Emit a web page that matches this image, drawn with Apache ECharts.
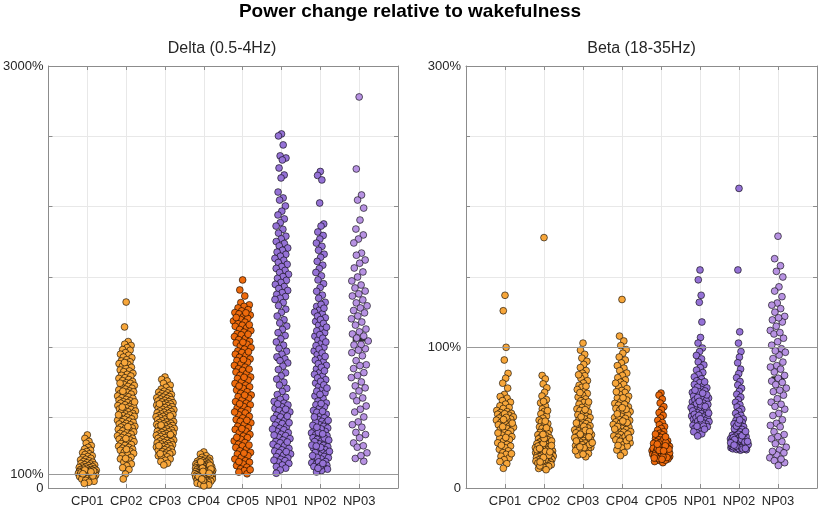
<!DOCTYPE html>
<html>
<head>
<meta charset="utf-8">
<script src="https://cdn.jsdelivr.net/npm/echarts@6/dist/echarts.min.js"></script>
<style>html,body{margin:0;padding:0;background:#fff}#chart{width:820px;height:509px}</style>
</head>
<body>
<div id="chart"></div>
<script>
// ---------------- DATA ----------------
const categories = ['CP01', 'CP02', 'CP03', 'CP04', 'CP05', 'NP01', 'NP02', 'NP03'];
const mainTitle = 'Power change relative to wakefulness';
const panelTitles = ['Delta (0.5-4Hz)', 'Beta (18-35Hz)'];
const deltaTickValues = [0, 100, 3000];
const deltaTickLabels = ['0', '100%', '3000%'];
const betaTickValues = [0, 100, 300];
const betaTickLabels = ['0', '100%', '300%'];
const referenceLevel = 100;

// Delta (0.5-4Hz), % change
const delta_CP01 = [377, 352, 331, 318, 301, 289, 277, 268, 259, 251, 243, 238, 229, 224, 216, 211, 204, 199, 193, 188, 183, 179, 174, 170, 166, 163, 159, 155, 152, 149, 146, 143, 140, 137, 134, 131, 129, 126, 124, 121, 119, 117, 114, 112, 110, 108, 106, 104, 102, 100, 98, 96, 94, 91, 89, 87, 84, 81, 78, 75, 72, 68, 64, 59, 54, 48, 41, 33, 120, 109, 95, 86, 128, 115, 101];
const delta_CP02 = [1322, 1145, 1041, 1022, 1013, 998, 984, 979, 962, 951, 944, 931, 926, 912, 903, 897, 884, 879, 866, 858, 851, 839, 832, 827, 815, 808, 801, 796, 784, 779, 771, 763, 757, 748, 744, 736, 729, 722, 718, 709, 703, 697, 690, 684, 679, 671, 667, 659, 654, 648, 641, 637, 630, 624, 619, 613, 607, 603, 596, 591, 586, 579, 574, 569, 562, 558, 553, 547, 541, 537, 530, 526, 519, 514, 509, 503, 498, 492, 488, 481, 476, 471, 466, 459, 455, 449, 444, 438, 433, 427, 422, 417, 411, 406, 399, 394, 388, 383, 377, 371, 366, 359, 353, 347, 341, 334, 329, 322, 316, 309, 303, 297, 289, 283, 276, 268, 261, 254, 246, 237, 229, 218, 207, 196, 184, 171, 158, 144, 131, 99, 64, 892, 745, 612, 520, 436, 352, 275, 210, 688, 575];
const delta_CP03 = [789, 772, 761, 744, 731, 716, 703, 694, 688, 681, 676, 670, 664, 661, 655, 650, 646, 641, 637, 632, 628, 623, 619, 614, 611, 606, 602, 597, 593, 589, 584, 580, 577, 572, 568, 563, 559, 556, 551, 547, 543, 538, 534, 531, 526, 522, 518, 514, 509, 506, 501, 497, 493, 489, 485, 481, 477, 472, 468, 465, 460, 456, 452, 448, 444, 440, 436, 431, 428, 423, 419, 415, 411, 407, 403, 399, 395, 390, 387, 383, 378, 374, 370, 366, 362, 358, 353, 349, 345, 341, 337, 333, 328, 324, 320, 316, 312, 307, 303, 299, 295, 291, 286, 282, 277, 273, 268, 263, 258, 253, 248, 242, 236, 229, 222, 214, 206, 197, 188, 176, 164, 598, 512, 447, 380, 301, 244];
const delta_CP04 = [256, 241, 229, 218, 211, 206, 201, 197, 193, 190, 186, 183, 180, 177, 174, 171, 169, 166, 163, 161, 158, 156, 153, 151, 148, 146, 144, 141, 139, 137, 134, 132, 130, 128, 125, 123, 121, 119, 117, 114, 112, 110, 108, 106, 103, 101, 99, 97, 95, 92, 90, 88, 86, 84, 81, 79, 77, 75, 72, 70, 68, 66, 63, 61, 59, 57, 54, 52, 50, 48, 45, 43, 40, 37, 34, 31, 27, 22, 15, 185, 162, 142, 118, 96, 74, 55, 135, 105, 83, 64];
const delta_CP05 = [1479, 1408, 1365, 1318, 1302, 1291, 1280, 1268, 1259, 1247, 1238, 1229, 1217, 1206, 1198, 1187, 1179, 1168, 1157, 1149, 1138, 1127, 1119, 1108, 1097, 1089, 1076, 1064, 1055, 1043, 1031, 1022, 1010, 998, 987, 975, 963, 951, 942, 929, 917, 906, 894, 882, 871, 859, 848, 836, 824, 813, 801, 789, 778, 766, 754, 743, 731, 719, 708, 696, 684, 673, 661, 649, 638, 626, 614, 603, 591, 579, 568, 556, 544, 533, 521, 509, 498, 486, 474, 463, 451, 439, 428, 416, 404, 393, 381, 369, 358, 346, 334, 323, 311, 299, 288, 276, 264, 253, 241, 229, 218, 206, 194, 183, 171, 159, 148, 136, 124, 113, 101, 1245, 1212, 1160, 1093, 1036, 968, 913, 845, 787, 725, 660, 598, 540, 481, 422, 360, 305, 248, 187, 130];
const delta_NP01 = [2517, 2503, 2439, 2361, 2346, 2332, 2275, 2225, 2204, 2104, 2062, 2047, 2005, 1968, 1941, 1913, 1886, 1862, 1839, 1812, 1790, 1771, 1752, 1738, 1721, 1706, 1690, 1677, 1661, 1648, 1632, 1619, 1603, 1590, 1574, 1561, 1547, 1532, 1519, 1503, 1490, 1476, 1461, 1447, 1432, 1418, 1404, 1389, 1376, 1361, 1349, 1340, 1318, 1296, 1271, 1248, 1222, 1196, 1173, 1151, 1127, 1104, 1083, 1060, 1038, 1015, 993, 972, 951, 932, 918, 905, 889, 866, 842, 819, 797, 774, 752, 731, 708, 686, 664, 645, 631, 615, 603, 590, 578, 566, 553, 541, 529, 517, 505, 493, 481, 470, 458, 447, 436, 425, 414, 403, 393, 382, 372, 361, 351, 341, 331, 321, 311, 301, 291, 281, 271, 262, 252, 242, 233, 223, 213, 204, 194, 184, 174, 163, 152, 141, 128, 105, 598, 560, 511, 464, 419, 376, 327, 258, 197];
const delta_NP02 = [2250, 2222, 2190, 2026, 1877, 1862, 1820, 1795, 1770, 1741, 1718, 1690, 1662, 1640, 1611, 1584, 1560, 1532, 1508, 1479, 1452, 1425, 1398, 1371, 1349, 1320, 1291, 1265, 1238, 1210, 1184, 1158, 1130, 1104, 1079, 1052, 1026, 1001, 974, 948, 922, 897, 871, 846, 820, 796, 770, 746, 721, 698, 676, 654, 636, 1305, 1278, 1250, 1222, 1197, 1170, 1143, 1117, 1090, 1065, 1038, 1012, 988, 960, 935, 909, 884, 858, 833, 808, 783, 758, 733, 710, 688, 665, 618, 604, 591, 577, 564, 551, 538, 525, 512, 499, 487, 474, 462, 450, 438, 426, 414, 402, 391, 379, 368, 357, 346, 335, 324, 314, 303, 293, 283, 273, 263, 253, 243, 234, 224, 215, 206, 197, 188, 179, 170, 161, 152, 143, 134, 124, 114, 470, 420, 372, 330, 289, 252, 218, 186, 155, 140, 260, 305, 355, 395, 445, 600, 545, 505, 480, 432, 385, 340, 298, 230, 175];
const delta_NP03 = [2780, 2268, 2083, 2047, 1990, 1905, 1841, 1799, 1770, 1742, 1670, 1655, 1621, 1598, 1564, 1536, 1500, 1472, 1443, 1422, 1400, 1380, 1365, 1337, 1316, 1295, 1280, 1262, 1245, 1223, 1203, 1180, 1158, 1130, 1110, 1095, 1066, 1045, 1017, 990, 962, 940, 905, 876, 849, 820, 785, 754, 726, 690, 655, 620, 583, 540, 505, 470, 432, 395, 357, 320, 290, 250, 210, 190, 1080, 1020, 980, 870, 800, 712, 640, 560, 450, 380, 300, 230];

// Beta (18-35Hz), % change
const beta_CP01 = [137, 126, 100, 91, 81.5, 78, 74.5, 71, 66.5, 65, 63.8, 62.1, 61, 59.6, 58.4, 57.2, 56.5, 55.1, 54.3, 53.6, 53, 52.4, 51.8, 51.1, 50.5, 49.7, 49, 48.2, 47.5, 46.6, 45.8, 44.9, 44, 43.2, 42.3, 41.4, 40.5, 39.5, 38.6, 37.6, 36.5, 35.4, 34.4, 33.2, 32.1, 31, 29.8, 28.7, 27.5, 26.4, 25.1, 23.9, 22.6, 21.4, 20.1, 18.8, 17.3, 14, 52.8, 50.2, 48.7, 46.1, 43.6, 39.1, 35.9, 30.4, 24.4];
const beta_CP02 = [178, 80, 77.5, 74, 71.2, 68, 65.4, 62.8, 60.5, 58.3, 56.2, 54.4, 52.7, 51.1, 49.6, 48.2, 46.9, 45.7, 44.5, 43.4, 42.3, 41.3, 40.4, 39.5, 38.6, 37.8, 37, 36.3, 35.6, 34.9, 34.3, 33.7, 33.1, 32.5, 32, 31.5, 31, 30.5, 30, 29.5, 29.1, 28.7, 28.3, 27.9, 27.5, 27.1, 26.7, 26.3, 25.9, 25.5, 25.1, 24.7, 24.3, 23.9, 23.5, 23.1, 22.7, 22.3, 21.9, 21.5, 21.1, 20.7, 20.3, 19.9, 19.5, 19.1, 18.7, 18.3, 17.9, 17.5, 17, 16.5, 16, 15.4, 14.7, 13.9, 13, 29.8, 27.2, 24.9, 22.5, 20.1, 17.7, 31.7, 26, 23.3, 19.3, 15.7, 33.4, 28.1, 21.7, 18.5, 25.7, 30.2, 35.2, 38.1, 42.8, 47.5, 55, 61.5];
const beta_CP03 = [103, 98, 95, 92.3, 90.1, 87.8, 85.6, 83.5, 81.6, 79.8, 78, 76.3, 74.6, 73, 71.5, 70, 68.6, 67.2, 65.9, 64.6, 63.3, 62, 60.8, 59.6, 58.4, 57.3, 56.2, 55.1, 54, 53, 52, 51, 50.1, 49.2, 48.3, 47.4, 46.6, 45.8, 45, 44.2, 43.4, 42.7, 42, 41.3, 40.6, 39.9, 39.2, 38.5, 37.9, 37.3, 36.7, 36.1, 35.5, 34.9, 34.3, 33.7, 33.1, 32.5, 31.9, 31.3, 30.7, 30.1, 29.5, 28.9, 28.3, 27.6, 26.9, 26.2, 25.4, 24.5, 23.5, 22.2, 46.2, 43.8, 41, 38.2, 35.8, 33.4, 30.9, 28.6, 26.5, 24, 40, 36.4, 32.2, 29.2, 50.6, 55.7, 61.2, 67.8, 72.4, 80.5];
const beta_CP04 = [134, 108, 104.5, 101.2, 98.4, 95.8, 93.1, 91, 88.9, 87, 85.2, 83.4, 81.7, 80, 78.4, 76.8, 75.2, 73.7, 72.2, 70.7, 69.3, 67.9, 66.5, 65.2, 63.9, 62.6, 61.3, 60.1, 58.9, 57.7, 56.5, 55.4, 54.3, 53.2, 52.1, 51, 50, 49, 48, 47, 46, 45.1, 44.2, 43.3, 42.4, 41.5, 40.6, 39.7, 38.8, 37.9, 37, 36.1, 35.2, 34.2, 33.2, 32.1, 31, 29.8, 28.5, 27, 25.2, 23, 64.1, 59.5, 55.9, 52.7, 49.5, 46.5, 43.7, 40.1, 36.6, 33.7, 30.3, 47.6, 41.9, 38.3, 35.6, 57.1, 68.4, 74.5];
const beta_CP05 = [67.5, 66, 63.2, 60.4, 57.8, 55.6, 53.5, 51.6, 49.8, 48.1, 46.5, 45, 43.6, 42.3, 41.1, 40, 38.9, 37.9, 36.9, 36, 35.1, 34.3, 33.5, 32.8, 32.1, 31.4, 30.8, 30.2, 29.6, 29, 28.5, 28, 27.5, 27, 26.5, 26, 25.5, 25.1, 24.7, 24.3, 23.9, 23.5, 23.1, 22.7, 22.3, 21.9, 21.5, 21.1, 20.6, 20.1, 19.5, 18.8, 18, 31.7, 29.3, 27.2, 25.8, 24.1, 22.5, 20.9, 30.5, 28.2, 26.2, 24.5, 22.9, 21.3, 33, 29.9, 27.8, 25.3, 23.3, 19.8, 34.7, 32.4, 28.8, 26.8, 24.9, 23.7, 21.7, 36.4, 31.1, 27.6, 22.1, 38.3, 30, 26.4, 20.4];
const beta_NP01 = [155, 148, 137, 132, 118, 107, 103, 99.5, 97, 94.2, 91.8, 89.6, 87.5, 85.6, 83.8, 82.1, 80.5, 79, 77.6, 76.2, 74.9, 73.6, 72.4, 71.2, 70.1, 69, 67.9, 66.9, 65.9, 64.9, 63.9, 63, 62.1, 61.2, 60.3, 59.4, 58.5, 57.6, 56.8, 56, 55.2, 54.4, 53.6, 52.8, 52, 51.2, 50.4, 49.6, 48.8, 48, 47.2, 46.3, 45.4, 44.5, 43.5, 42.4, 41.3, 40, 38.5, 37, 71.7, 68.4, 65.4, 62.6, 60, 57.2, 54.8, 52.4, 50, 47.6, 45, 42.9, 69.5, 64.4, 59, 55.6, 51.6, 46.7, 43.9, 66.2, 61.6, 53.2, 49.2, 44, 58, 41.8, 75.5, 67.4];
const beta_NP02 = [213, 155, 111, 103, 97, 93, 89, 84.5, 81.3, 78.4, 75.7, 73.2, 70.9, 68.7, 66.6, 64.6, 62.7, 60.9, 59.2, 57.6, 56, 54.5, 53.1, 51.7, 50.4, 49.1, 47.9, 46.7, 45.6, 44.5, 43.5, 42.5, 41.6, 40.7, 39.8, 39, 38.2, 37.5, 36.8, 36.1, 35.5, 34.9, 34.3, 33.8, 33.3, 32.8, 32.3, 31.9, 31.5, 31.1, 30.7, 30.3, 29.9, 29.5, 29.1, 28.7, 28.3, 27.9, 27.4, 26.9, 35.2, 34, 33, 32, 31.2, 30.4, 29.6, 28.8, 28, 33.5, 31.7, 30.1, 28.5, 27.2, 36.5, 34.6, 32.6, 30.9, 29.3, 27.7, 38.6, 35.8, 33.1, 31.4, 29.8, 37.2, 34.4, 32.1, 30.5, 28.1, 40.2, 42.1, 44, 46.1, 48.4];
const beta_NP03 = [179, 163, 158, 154, 150, 143, 140, 136, 131.5, 130, 127.5, 125, 122, 119.5, 118, 115, 112, 109.5, 106.5, 104, 101.5, 99, 96.5, 94.5, 92, 89.5, 87, 84.5, 82.5, 80, 78, 76, 75, 73.5, 71, 68.5, 66, 63.5, 61, 58, 56, 53, 51.5, 48.5, 46, 43.5, 40, 38, 35, 33, 31.5, 29, 27, 25, 23.5, 21.5, 19.5, 18, 16, 121, 110.5, 97.5, 86, 69.5, 59.5, 44.5, 36.5, 26, 20.5];

const deltaGroups = [delta_CP01, delta_CP02, delta_CP03, delta_CP04, delta_CP05, delta_NP01, delta_NP02, delta_NP03];
const betaGroups = [beta_CP01, beta_CP02, beta_CP03, beta_CP04, beta_CP05, beta_NP01, beta_NP02, beta_NP03];

// ---------------- STYLE ----------------
const groupColors = ['#F7A63A', '#F7A63A', '#F7A63A', '#F7A63A', '#EE6A0C', '#9572D6', '#9572D6', '#B792E2'];
const FONT = "'Liberation Sans', Arial, Helvetica, sans-serif";
const axisColor = '#8c8c8c';
const gridColor = '#e8e8e8';
const textColor = '#262626';

// deterministic swarm layout (x offsets scaled by local density)
const PHI = 0.6180339887;
function swarmX(vals, center, axisMax) {
  const h = axisMax * 6 / 422;
  const dens = vals.map(v => vals.reduce((s, w) => s + Math.exp(-0.5 * ((v - w) / h) ** 2), 0));
  const mx = Math.max(...dens);
  const order = vals.map((v, i) => i).sort((a, b) => vals[b] - vals[a]);
  const xs = new Array(vals.length);
  order.forEach((idx, k) => {
    const u = ((k * PHI + 0.5) % 1) * 2 - 1;
    xs[idx] = center + 0.24 * Math.sqrt(dens[idx] / mx) * u;
  });
  return xs;
}
function median(vals) {
  const s = vals.slice().sort((a, b) => a - b);
  const n = s.length;
  return n % 2 ? s[(n - 1) / 2] : (s[n / 2 - 1] + s[n / 2]) / 2;
}

const panels = [
  { groups: deltaGroups, max: 3000, interval: 500, tv: deltaTickValues, tl: deltaTickLabels, left: 46, width: 352, center: 222 },
  { groups: betaGroups, max: 300, interval: 50, tv: betaTickValues, tl: betaTickLabels, left: 466, width: 351, center: 641.5 }
];

const grid = [], xAxis = [], yAxis = [], series = [];
const title = [{
  text: mainTitle, left: 'center', top: 2, padding: 0,
  textStyle: { fontFamily: FONT, fontSize: 19, fontWeight: 'bold', color: '#000' }
}];

panels.forEach((p, pi) => {
  grid.push({ left: p.left, top: 66, width: p.width, height: 422 });
  title.push({
    text: panelTitles[pi], left: p.center, top: 41, textAlign: 'center', padding: 0,
    textStyle: { fontFamily: FONT, fontSize: 16, fontWeight: 'normal', color: textColor }
  });
  const common = {
    gridIndex: pi, type: 'value', min: 0, max: 9, interval: 1,
    axisLine: { show: true, onZero: false, lineStyle: { color: axisColor, width: 1 } },
    axisTick: { show: true, inside: true, length: 4, lineStyle: { color: axisColor } }
  };
  xAxis.push(Object.assign({}, common, {
    position: 'bottom',
    axisLabel: { formatter: v => categories[v - 1] || '', color: textColor, fontSize: 13, fontFamily: FONT, margin: 7 },
    splitLine: { show: true, lineStyle: { color: gridColor } }
  }));
  xAxis.push(Object.assign({}, common, {
    position: 'top', axisLabel: { show: false }, splitLine: { show: false }
  }));
  const ycommon = {
    gridIndex: pi, type: 'value', min: 0, max: p.max, interval: p.interval,
    axisLine: { show: true, onZero: false, lineStyle: { color: axisColor, width: 1 } },
    axisTick: { show: true, inside: true, length: 4, lineStyle: { color: axisColor } }
  };
  yAxis.push(Object.assign({}, ycommon, {
    position: 'left',
    axisLabel: {
      formatter: v => { const i = p.tv.indexOf(v); return (i >= 0 && v !== referenceLevel) ? p.tl[i] : ''; },
      color: textColor, fontSize: 13, fontFamily: FONT, margin: 5
    },
    splitLine: { show: true, lineStyle: { color: gridColor } }
  }));
  yAxis.push(Object.assign({}, ycommon, {
    position: 'right', axisLabel: { show: false }, splitLine: { show: false }
  }));

  const xi = pi * 2, yi = pi * 2;
  // medians + reference line (below points)
  series.push({
    type: 'scatter', xAxisIndex: xi, yAxisIndex: yi, z: 1,
    symbol: 'rect', symbolSize: [13, 4], itemStyle: { color: '#000' }, silent: true,
    data: p.groups.map((g, gi) => [gi + 1, median(g)]),
    markLine: {
      silent: true, symbol: 'none', animation: false,
      data: [{ yAxis: referenceLevel }],
      lineStyle: { color: '#999999', type: 'solid', width: 1 },
      label: { show: true, position: 'start', formatter: p.tl[p.tv.indexOf(referenceLevel)], color: textColor, fontSize: 13, fontFamily: FONT, distance: 5 }
    }
  });
  p.groups.forEach((g, gi) => {
    const xs = swarmX(g, gi + 1, p.max);
    series.push({
      type: 'scatter', xAxisIndex: xi, yAxisIndex: yi, z: 2,
      symbol: 'circle', symbolSize: 6.8,
      itemStyle: { color: groupColors[gi], borderColor: '#000', borderWidth: 0.6, opacity: 1 },
      data: g.map((v, k) => [xs[k], v])
    });
  });
});

const chart = echarts.init(document.getElementById('chart'), null, { renderer: 'canvas' });
chart.setOption({ animation: false, backgroundColor: '#fff', title, grid, xAxis, yAxis, series });
</script>
</body>
</html>
